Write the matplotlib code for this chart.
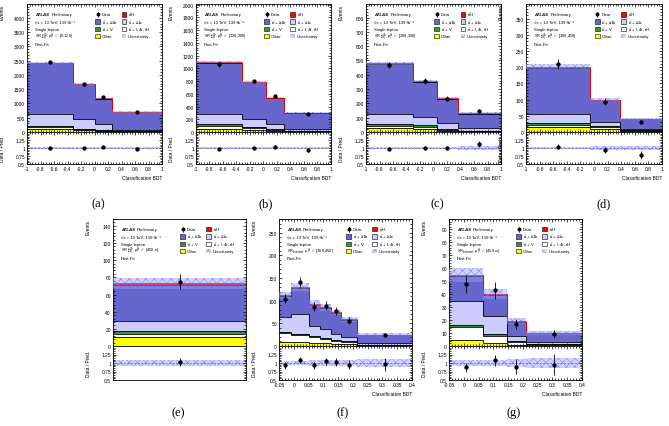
import numpy as np
import matplotlib
matplotlib.use('Agg')
import matplotlib.pyplot as plt
from matplotlib.patches import Rectangle
from matplotlib.ticker import MultipleLocator, AutoMinorLocator, FixedLocator, FuncFormatter

plt.rcParams['font.family'] = ['Liberation Sans', 'DejaVu Sans']
plt.rcParams['mathtext.fontset'] = 'custom'
plt.rcParams['mathtext.rm'] = 'Liberation Sans'
plt.rcParams['mathtext.it'] = 'Liberation Sans:italic'
plt.rcParams['mathtext.bf'] = 'Liberation Sans:bold'
plt.rcParams['axes.unicode_minus'] = False
plt.rcParams['hatch.linewidth'] = 0.4

# stack order (bottom -> top): Other, tt+light, ttV, tt+>=1c, tt+>=1b, ttH
# (a) SR >=4b >=6j, pT in [0,120)
a_edges = [-1, -0.32, 0, 0.26, 1]
a_other = [100, 55, 30, 12]
a_light = [70, 40, 20, 8]
a_ttv = [35, 25, 10, 5]
a_ttc = [425, 350, 210, 50]
a_ttb = [1775, 1205, 898, 620]
a_tth = [15, 15, 12, 10]
a_data = [2440, 1690, 1230, 690]
a_unc = [0.02, 0.02, 0.025, 0.04]

# (b) [120,200)
b_edges = [-1, -0.32, 0.04, 0.31, 1]
b_other = [50, 30, 15, 8]
b_light = [45, 30, 20, 7]
b_ttv = [25, 20, 10, 5]
b_ttc = [160, 130, 75, 30]
b_ttb = [810, 572, 413, 249]
b_tth = [10, 8, 7, 6]
b_data = [1060, 795, 560, 285]
b_unc = [0.02, 0.02, 0.025, 0.04]

# (c) [200,300)
c_edges = [-1, -0.31, 0.05, 0.36, 1]
c_other = [25, 18, 8, 4]
c_light = [20, 20, 8, 3]
c_ttv = [13, 12, 6, 3]
c_ttc = [71, 58, 39, 18]
c_ttb = [346, 243, 171, 99]
c_tth = [5, 4, 3, 3]
c_data = [470, 356, 233, 146]
c_unc = [0.025, 0.025, 0.03, 0.05]

# (d) [300,450)
d_edges = [-1, -0.06, 0.38, 1]
d_other = [14, 8, 2]
d_light = [8, 6, 2]
d_ttv = [6, 5, 1]
d_ttc = [27, 11, 4]
d_ttb = [144, 68, 31]
d_tth = [3, 2, 1]
d_data = [210, 94, 32]
d_unc = [0.04, 0.05, 0.07]

# (e) [450,inf)
e_edges = [-1, 1]
e_other = [11]
e_light = [3]
e_ttv = [4]
e_ttc = [11]
e_ttb = [42]
e_tth = [2]
e_data = [75]
e_unc = [0.09]

# (f) boosted [300,450)
f_edges = [-0.05, -0.01, 0.05, 0.09, 0.125, 0.16, 0.215, 0.4]
f_other = [8, 8, 7, 6, 5, 4, 1]
f_light = [21, 17, 13, 10, 7, 5, 1]
f_ttv = [2, 2, 1, 1, 1, 1, 1]
f_ttc = [34, 43, 24, 21, 14, 10, 3]
f_ttb = [45, 58, 46, 45, 46, 38, 18]
f_tth = [2, 2, 2, 2, 1, 1, 1]
f_data = [104, 141, 87, 89, 77, 56, 24]
f_unc = [0.07, 0.07, 0.08, 0.08, 0.08, 0.09, 0.11]

# (g) boosted [450,inf)
g_edges = [-0.05, 0.065, 0.145, 0.21, 0.4]
g_other = [5, 2, 1, 0.5]
g_light = [10, 6, 2, 1]
g_ttv = [1, 1, 0.5, 0.3]
g_ttc = [19, 14, 4.5, 1.2]
g_ttb = [19, 16.2, 10.5, 6.7]
g_tth = [1, 0.8, 0.5, 0.3]
g_data = [48, 43, 17, 9.5]
g_unc = [0.1, 0.1, 0.12, 0.15]

colors = ['#ffff00', '#ffffff', '#339933', '#ccccff', '#6666cc', '#ff0000']
unc_fill = (0.62, 0.62, 1.0, 0.45)
unc_color = (0.45, 0.45, 0.95, 0.8)
unc_hatch = 'xxxx'
tbar = r'$t\bar{t}$'
sr_res = r'SR$^{\geq 4b}_{\geq 6j}$, $p_{T}^{H}$ $\in$ '
sr_boo = r'SR$_{boosted}$, $p_{T}^{H}$ $\in$ '

FS = 3.1
TFS = 3.5


def fmt(v, pos):
    return '%g' % (round(v, 3) + 0.0)


def legend(ax, region):
    rows = [0.919, 0.862, 0.805, 0.75]
    x1, x2 = 0.505, 0.70
    bw, bh = 0.037, 0.034
    tr = ax.transAxes
    ax.plot([x1 + bw / 2], [rows[0]], 'o', ms=1.8, color='k', transform=tr)
    ax.plot([x1 + bw / 2] * 2, [rows[0] - 0.02, rows[0] + 0.02], color='k', lw=0.5, transform=tr)
    ax.text(x1 + bw + 0.012, rows[0], 'Data', fontsize=FS, va='center', transform=tr)
    boxes = [(x1, rows[1], colors[4], tbar + ' + ≥1b'),
             (x1, rows[2], colors[2], tbar + ' + V'),
             (x1, rows[3], colors[0], 'Other'),
             (x2, rows[0], colors[5], tbar + 'H'),
             (x2, rows[1], colors[3], tbar + ' + ≥1c'),
             (x2, rows[2], colors[1], tbar + ' + l, 4t, tH')]
    for x, y, col, lab in boxes:
        ax.add_patch(Rectangle((x, y - bh / 2), bw, bh, facecolor=col, edgecolor='k', lw=0.4, transform=tr))
        ax.text(x + bw + 0.012, y, lab, fontsize=FS, va='center', transform=tr)
    ax.add_patch(Rectangle((x2, rows[3] - bh / 2), bw, bh, facecolor=unc_fill, edgecolor=unc_color,
                           hatch=unc_hatch, lw=0, transform=tr))
    ax.text(x2 + bw + 0.012, rows[3], 'Uncertainty', fontsize=FS, va='center', transform=tr)

    tx = 0.059
    ax.text(tx, 0.919, 'ATLAS', fontsize=FS, fontweight='bold', style='italic', va='center', transform=tr)
    ax.text(tx + 0.122, 0.919, 'Preliminary', fontsize=FS, va='center', transform=tr)
    ax.text(tx, 0.862, '√s = 13 TeV, 139 fb⁻¹', fontsize=FS, va='center', transform=tr)
    ax.text(tx, 0.807, 'Single lepton', fontsize=FS, va='center', transform=tr)
    ax.text(tx, 0.752, region, fontsize=2.9, va='center', transform=tr)
    ax.text(tx, 0.69, 'Post-Fit', fontsize=FS, va='center', transform=tr)


def style(ax):
    for s in ax.spines.values():
        s.set_linewidth(0.6)
    ax.tick_params(which='both', direction='in', top=True, right=True, labelsize=TFS, width=0.5, pad=1.5)
    ax.tick_params(which='major', length=2.5)
    ax.tick_params(which='minor', length=1.3)


def panel(rect_main, rect_ratio, edges, comps, data, unc, ymax, ystep, region, xstep, label, lab_xy, show_x=True):
    ax = fig.add_axes(rect_main)
    rax = fig.add_axes(rect_ratio)
    edges = np.array(edges, dtype=float)
    unc = np.array(unc, dtype=float)
    widths = np.diff(edges)
    centers = 0.5 * (edges[:-1] + edges[1:])
    bottom = np.zeros(len(widths))
    for vals, col in zip(comps, colors):
        top = bottom + np.array(vals, dtype=float)
        ax.stairs(top, edges, baseline=bottom, fill=True, facecolor=col, edgecolor='none', zorder=1)
        ax.stairs(top, edges, baseline=None, color='red' if col == colors[5] else 'k', lw=0.6, zorder=2)
        bottom = top
    total = bottom
    unc_abs = total * unc
    ax.bar(edges[:-1], 2 * unc_abs, width=widths, bottom=total - unc_abs, align='edge',
           facecolor=unc_fill, edgecolor=unc_color, hatch=unc_hatch, lw=0, zorder=3)
    data = np.array(data, dtype=float)
    err = np.sqrt(data)
    ax.errorbar(centers, data, yerr=err, fmt='o', ms=2.1, color='k', elinewidth=0.6, capsize=0, zorder=4)

    ax.set_xlim(edges[0], edges[-1])
    ax.set_ylim(0, ymax)
    ax.yaxis.set_major_locator(MultipleLocator(ystep))
    ax.yaxis.set_minor_locator(AutoMinorLocator(5))
    ax.yaxis.set_major_formatter(FuncFormatter(fmt))
    style(ax)
    ax.tick_params(axis='x', labelbottom=False)
    ax.set_ylabel('Events', fontsize=TFS, loc='top')
    ax.yaxis.set_label_coords(-0.165, 1.0)
    legend(ax, region)

    r = data / total
    rerr = err / total
    rax.bar(edges[:-1], 2 * unc, width=widths, bottom=1 - unc, align='edge',
            facecolor=unc_fill, edgecolor=unc_color, hatch=unc_hatch, lw=0, zorder=1)
    rax.axhline(1, color='#5555cc', lw=0.5, ls=(0, (3, 2)), zorder=2)
    rax.errorbar(centers, r, yerr=rerr, fmt='o', ms=2.1, color='k', elinewidth=0.6, capsize=0, zorder=4)
    rax.set_xlim(edges[0], edges[-1])
    rax.set_ylim(0.5, 1.5)
    rax.yaxis.set_major_locator(FixedLocator([0.5, 0.75, 1.0, 1.25]))
    rax.yaxis.set_minor_locator(MultipleLocator(0.05))
    rax.yaxis.set_major_formatter(FuncFormatter(fmt))
    style(rax)
    rax.set_ylabel('Data / Pred.', fontsize=TFS)
    rax.yaxis.set_label_coords(-0.165, 0.5)
    if show_x:
        for a in (ax, rax):
            a.xaxis.set_major_locator(MultipleLocator(xstep))
            a.xaxis.set_minor_locator(AutoMinorLocator(5))
        rax.xaxis.set_major_formatter(FuncFormatter(fmt))
        rax.set_xlabel('Classification BDT', fontsize=TFS, loc='right', labelpad=3)
    else:
        for a in (ax, rax):
            a.tick_params(axis='x', which='both', bottom=False, top=False, labelbottom=False)
    fig.text(lab_xy[0], lab_xy[1], label, fontsize=9, family='Liberation Serif', ha='center', va='center')


W, H = 669, 427
fig = plt.figure(figsize=(W / 100, H / 100), dpi=100)


def rects(left, top_main, zero, rbottom, width):
    main = [left / W, 1 - zero / H, width / W, (zero - top_main) / H]
    ratio = [left / W, 1 - rbottom / H, width / W, (rbottom - zero) / H]
    return main, ratio


top_lefts = [27, 196, 366, 526]
bot_lefts = [113, 279, 449]

m, r = rects(top_lefts[0], 5, 133, 165, 135)
panel(m, r, a_edges, [a_other, a_light, a_ttv, a_ttc, a_ttb, a_tth], a_data, a_unc, 4490, 500,
      sr_res + '[0,120)', 0.2, '(a)', (98 / W, 1 - 204 / H))
m, r = rects(top_lefts[1], 5, 133, 165, 135)
panel(m, r, b_edges, [b_other, b_light, b_ttv, b_ttc, b_ttb, b_tth], b_data, b_unc, 2010, 200,
      sr_res + '[120,200)', 0.2, '(b)', (266 / W, 1 - 204 / H))
m, r = rects(top_lefts[2], 5, 133, 165, 135)
panel(m, r, c_edges, [c_other, c_light, c_ttv, c_ttc, c_ttb, c_tth], c_data, c_unc, 895, 100,
      sr_res + '[200,300)', 0.2, '(c)', (437 / W, 1 - 204 / H))
m, r = rects(top_lefts[3], 5, 133, 165, 136)
panel(m, r, d_edges, [d_other, d_light, d_ttv, d_ttc, d_ttb, d_tth], d_data, d_unc, 395, 50,
      sr_res + '[300,450)', 0.2, '(d)', (604 / W, 1 - 204 / H))
m, r = rects(bot_lefts[0], 220, 347, 381, 133)
panel(m, r, e_edges, [e_other, e_light, e_ttv, e_ttc, e_ttb, e_tth], e_data, e_unc, 148, 20,
      sr_res + r'[450,$\infty$)', 0.2, '(e)', (178 / W, 1 - 413 / H), show_x=False)
m, r = rects(bot_lefts[1], 220, 347, 381, 133)
panel(m, r, f_edges, [f_other, f_light, f_ttv, f_ttc, f_ttb, f_tth], f_data, f_unc, 280, 50,
      sr_boo + '[300,450)', 0.05, '(f)', (343 / W, 1 - 413 / H))
m, r = rects(bot_lefts[2], 220, 347, 381, 133)
panel(m, r, g_edges, [g_other, g_light, g_ttv, g_ttc, g_ttb, g_tth], g_data, g_unc, 98, 10,
      sr_boo + r'[450,$\infty$)', 0.05, '(g)', (514 / W, 1 - 413 / H))

fig.savefig('out.png', dpi=100)
